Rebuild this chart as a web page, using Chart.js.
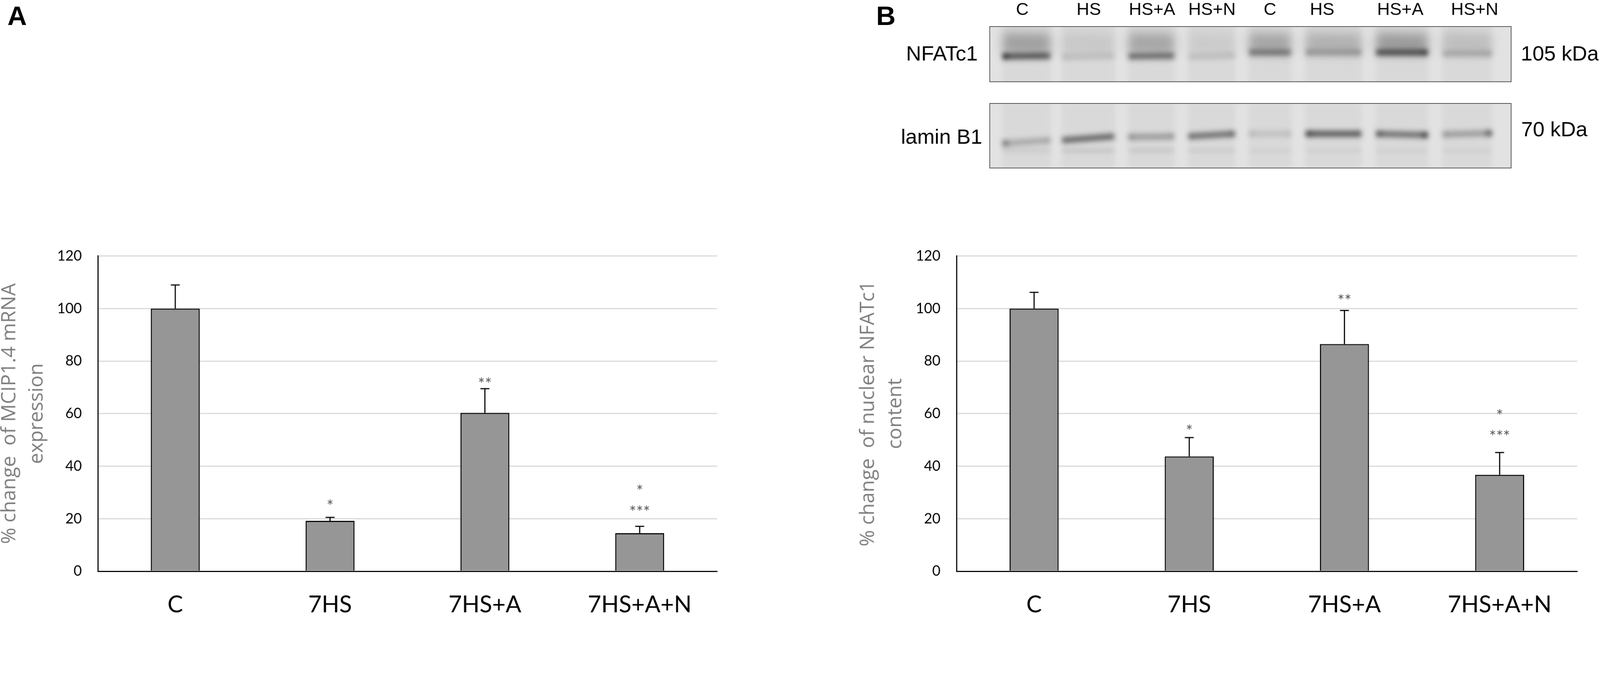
<!DOCTYPE html>
<html lang="en">
<head>
<meta charset="UTF-8">
<title>MCIP1.4 mRNA and nuclear NFATc1</title>
<script src="https://cdn.jsdelivr.net/npm/chart.js"></script>
<style>
  html, body { margin: 0; background: #fff; overflow: hidden; }
  #page { position: absolute; left: 0; top: 0; width: 4284px; height: 1767px; transform-origin: 0 0; }
  .box { position: absolute; }
  .panel { position: absolute; font: bold 72px "Liberation Sans", Arial, sans-serif; line-height: 1; color: #000; }
</style>
</head>
<body>
<div id="page">
  <div class="panel" style="left:20px; top:6px">A</div>
  <div class="panel" style="left:2346px; top:6px">B</div>

  <div class="box" style="left:2300px; top:0"><canvas id="blotTop" width="1984" height="240"></canvas></div>
  <div class="box" style="left:2300px; top:240px"><canvas id="blotBottom" width="1984" height="240"></canvas></div>
  <div class="box" style="left:0; top:620px"><canvas id="chartA" width="2000" height="1147"></canvas></div>
  <div class="box" style="left:2299px; top:620px"><canvas id="chartB" width="1985" height="1147"></canvas></div>
</div>

<script>
// fit the 4284 x 1767 figure into whatever the window really is
const fit = Math.min(window.innerWidth / 4284, window.innerHeight / 1767);
if (Math.abs(fit - 1) > 0.002) document.getElementById('page').style.transform = 'scale(' + fit + ')';

// bar charts
const groups = ['C', '7HS', '7HS+A', '7HS+A+N'];

const mcipMean = [100, 19.2, 60.3, 14.5];
const mcipUpper = [109.0, 20.5, 69.5, 17.1];
const mcipStars = [[], ['*'], ['**'], ['*', '***']];
const mcipStarAt = [[], [26.3], [72.8], [32.0, 24.1]];

const nfatMean = [100, 43.7, 86.5, 36.7];
const nfatUpper = [106.2, 50.9, 99.3, 45.2];
const nfatStars = [[], ['*'], ['**'], ['*', '***']];
const nfatStarAt = [[], [54.9], [104.5], [60.7, 52.8]];

const yTicks = [0, 20, 40, 60, 80, 100, 120];

// western blot, x in lane units (0..8 across the strip), y as fraction of strip height
const laneNames = ['C', 'HS', 'HS+A', 'HS+N', 'C', 'HS', 'HS+A', 'HS+N'];
const laneLabelAt = [0.50, 1.52, 2.49, 3.41, 4.30, 5.10, 6.30, 7.44];
const laneFrom = [0.20, 1.11, 2.13, 3.05, 3.98, 4.85, 5.93, 6.95];
const laneTo = [0.93, 1.91, 2.83, 3.76, 4.62, 5.70, 6.72, 7.70];

const nfatBandLeft = [0.54, 0.55, 0.54, 0.55, 0.47, 0.47, 0.47, 0.49];
const nfatBandRight = [0.53, 0.53, 0.53, 0.52, 0.47, 0.47, 0.47, 0.49];
const nfatLevel = [[0.95, 0.58, 0.52], [0.14, 0.10, 0.10], [0.50, 0.46, 0.48], [0.10, 0.10, 0.13],
                   [0.42, 0.38, 0.38], [0.28, 0.22, 0.28], [0.58, 0.58, 0.76], [0.20, 0.18, 0.24]];
const nfatSmear = [0.26, 0.07, 0.23, 0.06, 0.23, 0.18, 0.28, 0.12];

const laminBandLeft = [0.62, 0.57, 0.52, 0.51, 0.47, 0.47, 0.47, 0.48];
const laminBandRight = [0.57, 0.51, 0.51, 0.47, 0.47, 0.47, 0.49, 0.46];
const laminLevel = [[0.60, 0.22, 0.28], [0.52, 0.52, 0.52], [0.40, 0.28, 0.34], [0.55, 0.48, 0.60],
                    [0.20, 0.10, 0.18], [0.78, 0.58, 0.62], [0.70, 0.48, 0.86], [0.33, 0.28, 0.76]];
const laminLower = [0.06, 0.08, 0.07, 0.05, 0.03, 0.03, 0.03, 0.03];

const tickFont = { family: 'Lato', size: 38 };
const groupFont = { family: 'Lato', size: 62 };
const titleFont = { family: 'Open Sans', size: 53, lineHeight: 1.38 };

function errorBars(upper) {
  return {
    id: 'errorBars',
    afterDatasetsDraw(chart) {
      const { ctx, scales: { y } } = chart;
      ctx.save();
      ctx.strokeStyle = '#000';
      ctx.lineWidth = 3;
      chart.getDatasetMeta(0).data.forEach((bar, i) => {
        const top = y.getPixelForValue(upper[i]);
        ctx.beginPath();
        ctx.moveTo(bar.x, bar.y);
        ctx.lineTo(bar.x, top);
        ctx.moveTo(bar.x - 12, top);
        ctx.lineTo(bar.x + 12, top);
        ctx.stroke();
      });
      ctx.restore();
    }
  };
}

function starLabels(stars, at) {
  return {
    id: 'starLabels',
    afterDatasetsDraw(chart) {
      const { ctx, scales: { y } } = chart;
      ctx.save();
      ctx.font = '44px Lato';
      ctx.fillStyle = '#595959';
      ctx.textAlign = 'center';
      ctx.textBaseline = 'alphabetic';
      chart.getDatasetMeta(0).data.forEach((bar, i) => {
        stars[i].forEach((s, j) => {
          const m = ctx.measureText(s);
          const mid = (m.actualBoundingBoxAscent - m.actualBoundingBoxDescent) / 2;
          ctx.fillText(s, bar.x, y.getPixelForValue(at[i][j]) + mid);
        });
      });
      ctx.restore();
    }
  };
}

function barChart(id, mean, upper, stars, starAt, title, area) {
  return new Chart(document.getElementById(id), {
    type: 'bar',
    data: {
      labels: groups,
      datasets: [{
        data: mean,
        backgroundColor: '#969696',
        borderColor: '#000',
        borderWidth: 3,
        barPercentage: 0.316,
        categoryPercentage: 1
      }]
    },
    options: {
      responsive: false,
      animation: false,
      layout: { padding: { top: area.top, right: area.right, left: 0, bottom: 0 } },
      plugins: { legend: { display: false }, tooltip: { enabled: false } },
      scales: {
        x: {
          grid: { display: false, drawTicks: false },
          border: { display: true, color: '#000', width: 3 },
          ticks: { color: '#000', font: groupFont, padding: 53, maxRotation: 0 },
          afterFit: s => { s.height = area.xHeight; }
        },
        y: {
          min: 0,
          max: 120,
          afterBuildTicks: s => { s.ticks = yTicks.map(v => ({ value: v })); },
          ticks: { color: '#000', font: tickFont, padding: 43 },
          grid: { color: c => (c.tick && c.tick.value === 0 ? '#000' : '#d9d9d9'), lineWidth: 3, drawTicks: false },
          border: { color: '#000', width: 3 },
          title: { display: true, text: title, color: '#7f7f7f', font: titleFont, padding: { top: -11, bottom: 0 } },
          afterFit: s => { s.width = area.yWidth; }
        }
      }
    },
    plugins: [errorBars(upper), starLabels(stars, starAt)]
  });
}

barChart('chartA', mcipMean, mcipUpper, mcipStars, mcipStarAt,
  ['% change  of MCIP1.4 mRNA', 'expression'],
  { top: 60, right: 80, xHeight: 237, yWidth: 262 });

barChart('chartB', nfatMean, nfatUpper, nfatStars, nfatStarAt,
  ['% change  of nuclear NFATc1', 'content'],
  { top: 64, right: 61, xHeight: 237, yWidth: 262 });

// blot strips: every band is a short line dataset, softened with a canvas blur
function shade(i, lv) {
  return c => {
    const chart = c.chart, x = chart.scales.x;
    if (!chart.chartArea || !x) return 'rgba(0,0,0,' + lv[1] + ')';
    const g = chart.ctx.createLinearGradient(x.getPixelForValue(laneFrom[i]), 0, x.getPixelForValue(laneTo[i]), 0);
    g.addColorStop(0, 'rgba(0,0,0,' + lv[0] + ')');
    g.addColorStop(0.16, 'rgba(0,0,0,' + lv[1] + ')');
    g.addColorStop(0.84, 'rgba(0,0,0,' + lv[1] + ')');
    g.addColorStop(1, 'rgba(0,0,0,' + lv[2] + ')');
    return g;
  };
}

function segment(i, yl, yr, color, width, blur) {
  return {
    data: [{ x: laneFrom[i], y: yl }, { x: laneTo[i], y: yr }],
    showLine: true, pointRadius: 0, borderWidth: width, borderCapStyle: 'butt',
    borderColor: color, blur: blur
  };
}

function stripDatasets(bandL, bandR, level, smear, lower) {
  const sets = [];
  laneNames.forEach((n, i) => {
    sets.push(segment(i, 0.5, 0.5, 'rgba(0,0,0,0.04)', 170, 7));
    if (smear) sets.push(segment(i, 0.30, 0.32, 'rgba(0,0,0,' + smear[i] + ')', 56, 14));
    if (lower) sets.push(segment(i, 0.73, 0.73, 'rgba(0,0,0,' + lower[i] + ')', 12, 6));
    sets.push(segment(i, bandL[i], bandR[i], shade(i, level[i]), 16, 7));
  });
  return sets;
}

const blurPlugin = {
  id: 'blotBlur',
  beforeDraw(chart) {
    const { ctx, chartArea: a } = chart;
    ctx.save();
    ctx.fillStyle = '#e2e2e2';
    ctx.fillRect(a.left, a.top, a.right - a.left, a.bottom - a.top);
    ctx.restore();
  },
  beforeDatasetDraw(chart, args) {
    chart.ctx.save();
    chart.ctx.filter = 'blur(' + (chart.data.datasets[args.index].blur || 0) + 'px)';
  },
  afterDatasetDraw(chart) {
    chart.ctx.restore();
  }
};

function stripText(left, right, withLanes) {
  return {
    id: 'stripText',
    afterDraw(chart) {
      const { ctx, chartArea: a, scales: { x } } = chart;
      ctx.save();
      ctx.strokeStyle = '#505050';
      ctx.lineWidth = 2;
      ctx.strokeRect(a.left, a.top, a.right - a.left, a.bottom - a.top);
      ctx.fillStyle = '#000';
      ctx.font = '56px "Liberation Sans", Arial, sans-serif';
      ctx.textBaseline = 'alphabetic';
      ctx.textAlign = 'right';
      ctx.fillText(left.text, left.x, left.y);
      ctx.textAlign = 'left';
      ctx.fillText(right.text, right.x, right.y);
      if (withLanes) {
        ctx.font = '47px "Liberation Sans", Arial, sans-serif';
        ctx.textAlign = 'center';
        laneNames.forEach((n, i) => ctx.fillText(n, x.getPixelForValue(laneLabelAt[i]), 40));
      }
      ctx.restore();
    }
  };
}

function blotStrip(id, sets, pad, text) {
  return new Chart(document.getElementById(id), {
    type: 'scatter',
    data: { datasets: sets },
    options: {
      responsive: false,
      animation: false,
      layout: { padding: pad },
      plugins: { legend: { display: false }, tooltip: { enabled: false } },
      scales: {
        x: { type: 'linear', min: 0, max: 8, display: false },
        y: { type: 'linear', min: 0, max: 1, reverse: true, display: false }
      }
    },
    plugins: [blurPlugin, text]
  });
}

blotStrip('blotTop', stripDatasets(nfatBandLeft, nfatBandRight, nfatLevel, nfatSmear, null),
  { left: 350, right: 238, top: 71, bottom: 21 },
  stripText({ text: 'NFATc1', x: 318, y: 162 }, { text: '105 kDa', x: 1772, y: 162 }, true));

blotStrip('blotBottom', stripDatasets(laminBandLeft, laminBandRight, laminLevel, null, laminLower),
  { left: 350, right: 238, top: 37, bottom: 30 },
  stripText({ text: 'lamin B1', x: 330, y: 145 }, { text: '70 kDa', x: 1773, y: 125 }, false));
</script>
</body>
</html>
